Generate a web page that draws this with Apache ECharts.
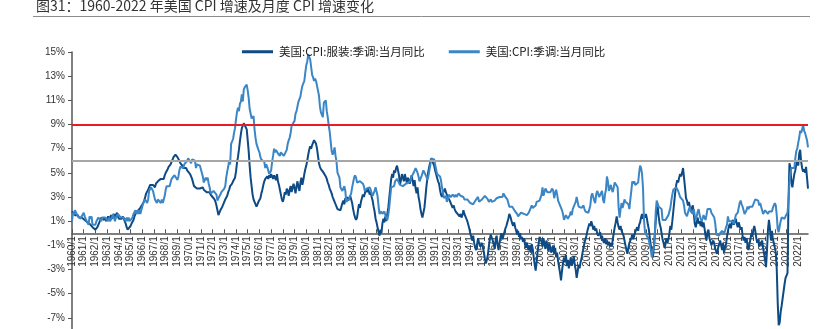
<!DOCTYPE html>
<html>
<head>
<meta charset="utf-8">
<script src="https://cdn.jsdelivr.net/npm/echarts@6/dist/echarts.min.js"></script>
<style>
html,body{margin:0;padding:0;background:#fff;}
#chart{width:826px;height:329px;}
</style>
</head>
<body>
<div id="chart"></div>
<script>
// ---- data ----
var startYear = 1960, endYear = 2022, endMonth = 11;
var titleText = '图31：1960-2022 年美国 CPI 增速及月度 CPI 增速变化';
var seriesNames = ['美国:CPI:服装:季调:当月同比', '美国:CPI:季调:当月同比'];
var yTicks = [-7, -5, -3, -1, 1, 3, 5, 7, 9, 11, 13, 15];
var refLines = [9, 6];

// 美国:CPI:服装:季调:当月同比 (monthly, 1960/1 - 2022/11)
var apparel = [
1.8,1.9,1.7,1.5,1.6,1.4,1.5,1.3,1.4,1.2,1.3,1.3,
1.3,1.1,1.2,1.0,0.9,0.8,0.9,0.7,0.6,0.5,0.6,0.4,
0.3,0.2,0.5,0.7,0.9,1.1,1.3,1.2,1.4,1.1,1.3,1.0,
1.2,1.4,1.1,1.3,1.5,1.2,1.4,1.6,1.3,1.5,1.7,1.4,
1.2,1.3,1.1,1.2,1.4,1.2,1.0,0.8,0.5,0.3,0.4,0.3,
0.6,0.8,0.7,1.1,1.4,1.6,1.5,1.8,1.7,1.9,2.1,2.2,
2.2,2.5,2.7,3.0,3.3,3.2,3.6,3.8,4.0,4.1,3.9,4.0,
3.9,3.8,4.1,4.0,4.3,4.4,4.2,4.5,4.4,4.6,4.5,4.8,
5.0,5.1,5.3,5.5,5.4,5.7,5.9,6.1,6.3,6.4,6.5,6.4,
6.3,6.2,6.0,5.8,5.9,5.6,5.4,5.5,5.3,5.4,5.2,5.1,
5.1,4.9,4.7,4.5,4.2,3.9,3.8,3.9,3.7,3.6,3.8,3.7,
3.7,3.6,3.8,3.6,3.5,3.7,3.4,3.5,3.3,3.4,3.2,3.3,
3.0,2.9,2.8,2.6,2.3,1.9,1.5,1.7,1.9,2.0,2.2,2.4,
2.6,2.8,2.9,3.1,3.4,3.6,3.9,3.8,4.1,4.3,4.4,4.6,
5.1,5.8,6.3,6.9,7.6,8.2,8.7,8.9,9.1,9.0,9.1,8.6,
7.7,6.8,5.6,4.6,3.9,3.2,2.8,2.6,2.4,2.2,2.3,2.6,
2.6,2.9,3.3,3.6,4.0,4.3,4.5,4.4,4.7,4.5,4.8,4.6,
4.9,4.7,4.5,4.8,4.6,4.4,4.9,4.3,4.0,3.6,3.2,2.8,
2.6,2.9,3.4,3.2,3.7,3.5,3.1,3.6,3.9,3.4,3.8,4.1,
3.7,3.3,3.9,4.3,3.8,3.5,4.2,4.6,4.0,4.4,4.9,5.3,
5.6,6.0,6.5,6.9,7.2,7.0,7.3,7.5,7.7,7.6,7.4,7.0,
6.4,5.8,5.5,5.3,5.4,5.1,5.2,5.0,4.7,4.5,4.2,4.0,
3.7,3.5,3.3,3.0,2.8,2.6,2.4,2.2,2.0,1.9,2.1,1.9,
2.2,2.5,2.7,2.4,2.9,2.6,3.0,2.7,2.9,3.1,2.8,2.5,
2.0,1.6,1.3,1.1,1.3,1.9,2.4,2.1,2.6,2.9,3.2,3.0,
3.3,3.6,3.4,3.7,3.5,3.2,3.4,3.0,2.7,2.2,1.8,1.2,
0.9,0.5,0.1,-0.2,0.3,0.0,0.8,1.2,0.9,1.4,1.0,1.6,
2.1,2.9,3.7,4.5,4.9,4.6,5.2,5.0,5.4,5.6,5.2,4.8,
4.0,4.4,4.9,4.6,4.3,4.9,4.5,4.2,4.6,4.4,4.1,4.5,
4.8,4.3,3.9,4.4,3.7,3.3,3.8,3.0,2.6,2.0,1.6,1.3,
1.3,2.1,2.9,3.8,4.5,5.1,5.5,5.9,6.2,6.3,6.1,5.6,
5.2,4.9,4.6,4.3,4.1,3.6,3.2,3.0,3.3,3.5,3.7,3.4,
3.3,3.0,2.9,2.7,2.5,2.4,2.1,2.3,2.0,1.8,1.9,1.6,
1.7,1.4,1.6,1.3,1.5,1.9,1.6,1.4,1.2,1.0,0.7,0.4,
0.0,-0.3,-0.6,-0.2,-0.8,-1.2,-1.4,-0.9,-0.4,-0.8,-1.1,-1.0,
-0.8,-1.2,-1.6,-2.1,-2.5,-2.2,-1.8,-1.1,-0.5,-0.1,0.0,-0.6,
-0.9,-1.3,-0.6,-0.2,-1.0,-1.4,-0.8,-0.3,0.0,-0.5,-0.2,0.1,
0.4,0.6,0.9,1.2,1.6,1.4,1.1,0.8,0.6,0.9,0.5,0.2,
-0.1,0.2,-0.3,0.0,-0.5,-0.3,-0.7,-0.4,-0.9,-1.2,-0.8,-1.2,
-1.4,-1.0,-1.6,-0.9,-1.3,-2.0,-2.6,-3.1,-2.4,-1.5,-0.9,-0.3,
-0.3,-0.7,-1.1,-0.4,-0.9,-1.3,-0.6,-1.0,-1.5,-0.8,-1.2,-1.6,
-1.4,-1.0,-1.7,-1.2,-2.0,-1.6,-2.3,-2.8,-3.3,-3.9,-3.1,-2.5,
-2.0,-2.4,-1.8,-2.7,-2.2,-2.9,-2.4,-2.0,-2.7,-2.3,-1.9,-2.6,
-3.0,-3.7,-3.2,-2.6,-2.9,-2.4,-2.1,-1.6,-1.2,-0.8,-0.5,-0.2,
0.2,0.5,0.8,0.6,1.0,0.7,0.3,0.6,0.2,0.4,0.0,-0.2,
-0.3,0.1,-0.4,-0.2,-0.6,-0.8,-0.4,-0.9,-0.6,-1.0,-0.7,-1.1,
-0.8,-1.1,-0.5,0.0,0.5,0.9,1.4,0.9,0.5,0.3,0.6,0.2,
0.3,-0.2,-0.6,-1.0,-1.4,-1.7,-1.2,-0.8,-0.9,-0.4,-0.1,-0.5,
-0.2,0.1,0.3,0.5,0.2,0.7,0.9,1.3,1.6,1.2,1.5,1.3,
1.6,1.2,0.7,0.3,-0.4,-1.0,-1.6,-2.0,-1.3,-0.2,1.0,2.0,
2.2,1.4,0.8,0.5,0.0,-0.5,-0.8,-1.2,-0.9,-0.4,-0.8,-0.5,
0.0,0.6,0.3,1.0,1.8,2.6,3.4,4.0,4.4,4.2,4.6,4.9,
4.7,5.0,5.4,4.6,3.8,2.9,2.7,2.3,2.6,2.2,1.8,2.1,
2.3,1.6,0.8,0.5,0.9,1.3,0.8,1.0,0.6,1.0,0.5,0.9,
0.4,-0.2,-0.6,0.1,0.3,-0.4,-0.7,-1.0,-1.1,-0.6,-0.9,-1.3,
-1.5,-1.7,-1.2,-0.9,-0.6,-1.0,-1.4,-0.8,-1.6,-1.2,-0.9,-0.3,
0.2,0.6,0.8,0.4,0.9,1.1,0.7,1.0,1.2,0.8,0.5,0.9,
0.6,0.3,0.5,-0.2,-0.6,-0.3,-0.8,-0.4,-1.0,-1.4,-0.9,-0.5,
0.0,-0.3,0.3,0.6,0.2,-0.4,-0.8,-0.5,-1.1,-0.7,-1.0,-0.6,
-1.2,-1.7,-2.2,-2.8,-1.4,0.3,1.1,0.4,-0.6,0.2,-0.5,-0.8,
-0.8,-1.6,-3.0,-5.8,-7.6,-7.4,-6.5,-6.0,-5.4,-4.8,-4.2,-3.7,
-3.5,-3.3,2.6,5.8,5.4,4.2,3.8,4.4,4.9,5.2,5.7,6.0,
5.6,6.6,6.9,5.9,5.4,5.1,5.3,5.0,5.5,4.6,3.7
];

// 美国:CPI:季调:当月同比 (monthly, 1960/1 - 2022/11)
var cpiAll = [
1.0,1.7,1.5,1.9,1.9,1.8,1.4,1.4,1.4,1.2,1.4,1.4,
1.7,1.4,1.4,1.0,0.9,0.7,1.4,1.2,1.4,0.7,0.7,0.7,
0.7,1.0,1.0,1.3,1.3,1.3,1.0,1.3,1.3,1.3,1.3,1.3,
1.3,1.0,1.3,1.0,1.0,1.3,1.6,1.6,1.0,1.3,1.3,1.6,
1.6,1.6,1.3,1.3,1.3,1.3,1.3,1.0,1.3,1.0,1.3,1.0,
1.0,1.0,1.3,1.6,1.6,1.9,1.6,1.9,1.6,1.9,1.6,1.9,
1.9,2.5,2.5,2.8,2.8,2.5,2.8,3.5,3.5,3.8,3.8,3.5,
3.5,2.8,2.8,2.5,2.8,2.8,2.8,2.5,2.8,2.5,2.8,3.1,
3.6,3.9,3.9,3.9,3.9,4.2,4.5,4.5,4.5,4.8,4.8,4.7,
4.4,4.7,5.2,5.5,5.5,5.5,5.4,5.7,5.7,5.7,6.0,6.2,
6.2,6.1,5.8,6.1,6.1,6.0,6.0,5.4,5.7,5.7,5.6,5.6,
5.3,5.0,4.7,4.2,4.4,4.6,4.4,4.6,4.1,3.8,3.3,3.3,
3.3,3.5,3.5,3.5,3.2,2.7,2.9,2.9,3.2,3.4,3.4,3.4,
3.7,3.9,4.6,5.1,5.5,6.0,5.7,7.4,7.4,7.8,8.3,8.7,
9.4,10.0,10.4,10.1,10.7,10.9,11.5,10.9,11.9,12.1,12.2,12.3,
11.8,11.2,10.3,10.2,9.5,9.4,9.7,8.6,7.9,7.4,7.4,6.9,
6.7,6.3,6.1,6.0,6.2,5.9,5.4,5.7,5.5,5.5,4.9,4.9,
5.2,5.9,6.4,7.0,6.7,6.9,6.8,6.6,6.6,6.4,6.7,6.7,
6.8,6.4,6.4,6.5,6.9,7.4,7.7,7.9,8.3,8.9,8.9,9.0,
9.3,9.9,10.1,10.5,10.9,10.9,11.3,11.8,12.2,12.1,12.6,13.3,
13.9,14.2,14.8,14.7,14.4,14.4,13.1,12.9,12.6,12.8,12.6,12.5,
11.8,11.4,10.5,10.0,9.8,9.6,10.8,10.8,11.0,10.1,9.6,8.9,
8.4,7.6,6.8,6.5,6.7,7.1,6.4,5.9,5.0,5.1,4.6,3.8,
3.7,3.5,3.6,3.9,3.5,2.6,2.5,2.6,2.9,2.9,3.3,3.8,
4.2,4.6,4.8,4.6,4.2,4.2,4.2,4.3,4.3,4.3,4.1,3.9,
3.5,3.5,3.7,3.7,3.8,3.8,3.6,3.3,3.1,3.2,3.5,3.8,
3.9,3.1,2.3,1.6,1.5,1.8,1.6,1.6,1.8,1.5,1.3,1.1,
1.5,2.1,3.0,3.8,3.9,3.7,3.9,4.3,4.4,4.5,4.5,4.4,
4.0,3.9,3.9,3.9,3.9,4.0,4.1,4.0,4.2,4.2,4.2,4.4,
4.7,4.8,5.0,5.1,5.4,5.2,5.0,4.7,4.3,4.5,4.7,4.6,
5.2,5.3,5.2,4.7,4.4,4.7,4.8,5.6,6.2,6.3,6.3,6.1,
5.7,5.3,4.9,4.9,5.0,4.7,4.4,3.8,3.4,2.9,3.0,3.1,
2.6,2.8,3.2,3.2,3.0,3.1,3.2,3.1,3.0,3.2,3.0,2.9,
3.3,3.2,3.1,3.2,3.2,3.0,2.8,2.8,2.7,2.8,2.7,2.7,
2.5,2.5,2.5,2.4,2.3,2.5,2.8,2.9,3.0,2.6,2.7,2.7,
2.8,2.9,2.9,3.1,3.2,3.0,2.8,2.6,2.5,2.8,2.6,2.5,
2.7,2.7,2.8,2.9,2.9,2.8,3.0,2.9,3.0,3.0,3.3,3.3,
3.0,3.0,2.8,2.5,2.2,2.3,2.2,2.2,2.2,2.1,1.8,1.7,
1.6,1.4,1.4,1.4,1.7,1.7,1.7,1.6,1.5,1.5,1.5,1.6,
1.7,1.6,1.7,2.3,2.1,2.0,2.1,2.3,2.6,2.6,2.6,2.7,
2.7,3.2,3.8,3.1,3.2,3.7,3.7,3.4,3.5,3.4,3.4,3.4,
3.7,3.5,2.9,3.3,3.6,3.2,2.7,2.7,2.6,2.1,1.9,1.6,
1.1,1.1,1.5,1.6,1.2,1.1,1.5,1.8,1.5,2.0,2.2,2.4,
2.6,3.0,3.0,2.2,2.1,2.1,2.1,2.2,2.3,2.0,1.8,1.9,
1.9,1.7,1.7,2.3,3.1,3.3,3.0,2.7,2.5,3.2,3.5,3.3,
3.0,3.0,3.1,3.5,2.8,2.5,3.2,3.6,4.7,4.3,3.5,3.4,
4.0,3.6,3.4,3.5,4.2,4.3,4.1,3.8,2.1,1.3,2.0,2.5,
2.1,2.4,2.8,2.6,2.7,2.7,2.4,2.0,2.8,3.5,4.3,4.1,
4.3,4.0,4.0,3.9,4.2,5.0,5.6,5.4,4.9,3.7,1.1,0.1,
0.0,0.0,-0.4,-0.6,-1.0,-1.4,-2.0,-1.5,-1.3,-0.2,1.8,2.7,
2.6,2.2,2.3,2.2,2.0,1.1,1.2,1.1,1.1,1.2,1.1,1.5,
1.6,2.1,2.7,3.2,3.6,3.6,3.6,3.8,3.9,3.5,3.4,3.0,
2.9,2.9,2.7,2.3,1.7,1.7,1.4,1.7,2.0,2.2,1.8,1.7,
1.6,2.0,1.5,1.1,1.4,1.8,2.0,1.5,1.2,1.0,1.2,1.5,
1.6,1.1,1.5,2.0,2.1,2.1,2.0,1.7,1.7,1.7,1.3,0.8,
-0.1,0.0,-0.1,-0.2,0.0,0.1,0.2,0.2,0.0,0.2,0.5,0.7,
1.4,1.0,0.9,1.1,1.0,1.0,0.8,1.1,1.5,1.6,1.7,2.1,
2.5,2.7,2.4,2.2,1.9,1.6,1.7,1.9,2.2,2.0,2.2,2.1,
2.1,2.2,2.4,2.5,2.8,2.9,2.9,2.7,2.3,2.5,2.2,1.9,
1.6,1.5,1.9,2.0,1.8,1.6,1.8,1.7,1.7,1.8,2.1,2.3,
2.5,2.3,1.5,0.3,0.1,0.6,1.0,1.3,1.4,1.2,1.2,1.4,
1.4,1.7,2.6,4.2,5.0,5.4,5.4,5.3,5.4,6.2,6.8,7.0,
7.5,7.9,8.5,8.3,8.6,9.0,8.5,8.3,8.2,7.7,7.1
];

// category labels: year/month
var categories = [];
for (var y = startYear; y <= endYear; y++) {
  var last = (y === endYear) ? endMonth : 12;
  for (var m = 1; m <= last; m++) categories.push(y + '/' + m);
}

var yMin = -9, yMax = 15, gridTop = 52, gridHeight = 290;
var zeroOffset = -gridHeight * (0 - yMin) / (yMax - yMin);

var chart = echarts.init(document.getElementById('chart'));
var isJan = function (idx) { return idx % 12 === 0; };

chart.setOption({
  animation: false,
  backgroundColor: '#ffffff',
  title: {
    text: titleText,
    left: 31,
    top: -6,
    textStyle: { fontSize: 14, fontWeight: 'normal', color: '#333', fontFamily: 'Noto Sans CJK SC' }
  },
  graphic: [{
    type: 'line',
    shape: { x1: 33, y1: 16.5, x2: 810, y2: 16.5 },
    style: { stroke: '#8c8c8c', lineWidth: 1 }
  }],
  legend: {
    data: seriesNames,
    left: 237,
    top: 41,
    itemWidth: 31,
    itemHeight: 3,
    itemGap: 24,
    icon: 'rect',
    textStyle: { fontSize: 11.5, color: '#222', fontFamily: 'Noto Sans CJK SC', padding: [0, 0, 0, 1] }
  },
  grid: { left: 72, right: 18, top: gridTop, height: gridHeight, outerBoundsMode: 'none', containLabel: false },
  xAxis: {
    type: 'category',
    data: categories,
    boundaryGap: false,
    position: 'bottom',
    offset: zeroOffset,
    axisLine: { onZero: false, lineStyle: { color: '#555', width: 1.5 } },
    axisTick: { show: true, inside: true, length: 4, interval: isJan, lineStyle: { color: '#555' } },
    axisLabel: {
      interval: isJan,
      rotate: 90,
      fontSize: 10,
      color: '#333',
      margin: 3,
      hideOverlap: false,
      fontFamily: 'Liberation Sans'
    },
    splitLine: { show: false }
  },
  yAxis: {
    type: 'value',
    min: yMin,
    max: yMax,
    interval: 2,
    axisLine: { show: true, onZero: false, lineStyle: { color: '#555', width: 1.5 } },
    axisTick: { show: true, length: 4, lineStyle: { color: '#555' } },
    axisLabel: {
      formatter: function (v) { return yTicks.indexOf(v) >= 0 ? v + '%' : ''; },
      fontSize: 10,
      color: '#333',
      margin: 7,
      fontFamily: 'Liberation Sans'
    },
    splitLine: { show: false }
  },
  series: [
    {
      name: seriesNames[0],
      type: 'line',
      data: apparel,
      showSymbol: false,
      symbol: 'none',
      lineStyle: { color: '#0e4a84', width: 2 },
      itemStyle: { color: '#0e4a84' },
      z: 2
    },
    {
      name: seriesNames[1],
      type: 'line',
      data: cpiAll,
      showSymbol: false,
      symbol: 'none',
      lineStyle: { color: '#3a86c6', width: 2 },
      itemStyle: { color: '#3a86c6' },
      z: 3
    },
    {
      name: 'ref',
      type: 'line',
      data: [],
      z: 4,
      markLine: {
        silent: true,
        symbol: ['none', 'none'],
        label: { show: false },
        data: [
          { yAxis: refLines[0], lineStyle: { color: '#e81d23', width: 2, type: 'solid' } },
          { yAxis: refLines[1], lineStyle: { color: '#a6a6a6', width: 2, type: 'solid' } }
        ]
      }
    }
  ]
});
</script>
</body>
</html>
